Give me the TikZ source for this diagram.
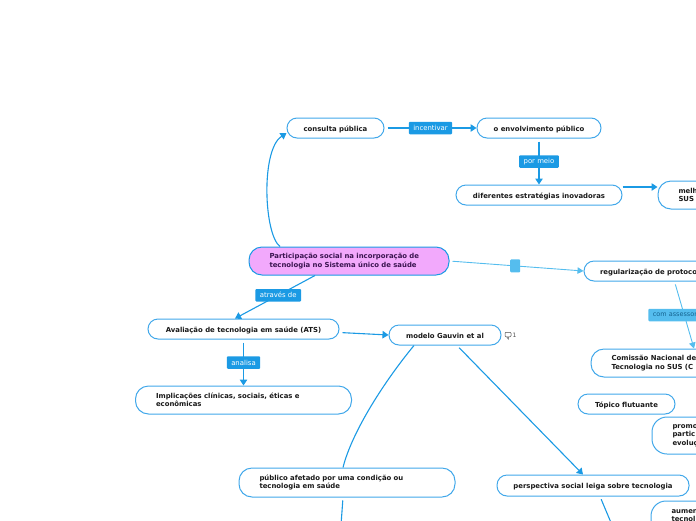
\documentclass[tikz,border=0pt]{standalone}
\usepackage{fontspec}
\setmainfont{DejaVu Sans}
\usepackage{tikz}
\usetikzlibrary{arrows.meta}
\definecolor{linha}{HTML}{1B9AE4}
\definecolor{claro}{HTML}{55BDEE}
\definecolor{borda}{HTML}{42A8EA}
\definecolor{rosa}{HTML}{F2A9FC}
\definecolor{tinta}{HTML}{3A1450}
\definecolor{tintab}{HTML}{14628F}

\begin{document}
\begin{tikzpicture}[x=1pt,y=-1pt,
main/.style = {draw=borda, fill=white, line width=1pt, rounded corners=10pt, inner sep=0pt, minimum height=20pt, text height=8.2pt, text depth=1.8pt, text=black!90, font=\fontsize{6.9}{8.3}\selectfont\bfseries},
wide/.style = {main, text height=, text depth=, rounded corners=13pt, inner xsep=20.5pt, align=left, minimum height=28pt},
link/.style = {draw=linha, line width=1.1pt, -{Triangle[width=7.5pt,length=6pt]}},
soft/.style = {draw=claro, line width=0.9pt, -{Triangle[width=6.5pt,length=6pt]}},
plain/.style = {draw=linha, line width=1.1pt},
tag/.style = {fill=linha, text=white, rounded corners=1pt, inner sep=0pt, inner xsep=4.5pt, minimum height=12.5pt, font=\fontsize{6.9}{8}\selectfont},
softtag/.style = {tag, fill=claro, text=tintab, font=\fontsize{6.5}{8}\selectfont},
bubble/.style = {draw=black!70, line width=0.5pt, rounded corners=1pt, inner sep=0pt, minimum width=6pt, minimum height=4.5pt}]
\useasboundingbox (0,0) rectangle (696,520);
\clip (0,0) rectangle (696,520);
\node[wide, fill=rosa, draw=linha, text=tinta, text width=159pt] (root) at (349,261) {Participação social na incorporação de\\tecnologia no Sistema único de saúde};
\node[main, minimum width=97pt, node distance=133pt, above of=root, xshift=-13.5pt] (consulta) {consulta pública};
\node[main, minimum width=124pt, node distance=203.5pt, right of=consulta] (envolvimento) {o envolvimento público};
\node[main, minimum width=166pt, node distance=67pt, below of=envolvimento] (diferentes) {diferentes estratégias inovadoras};
\node[wide, text width=59pt, node distance=169pt, right of=diferentes] (melhoria) {melh\\SUS};
\node[main, minimum width=160pt, node distance=315pt, right of=root, yshift=-10pt, inner xsep=16pt, align=left, text width=128pt] (regular) {regularização de protoco};
\node[wide, text width=159pt, node distance=92pt, below of=regular, xshift=27pt] (comissao) {Comissão Nacional de\\Tecnologia no SUS (C};
\node[main, minimum width=97pt, node distance=41pt, below of=comissao, xshift=-64.5pt] (flutuante) {Tópico flutuante};
\node[wide, text width=59pt, minimum height=37pt, rounded corners=15pt, node distance=31.5pt, below of=flutuante, xshift=75.5pt] (promo) {promo\\partic\\evoluç};
\node[main, minimum width=191pt, node distance=68pt, below of=root, xshift=-105.5pt] (ats) {Avaliação de tecnologia em saúde (ATS)};
\node[wide, text width=175pt, node distance=71pt, below of=ats] (implicacoes) {Implicações clínicas, sociais, éticas e\\econômicas};
\node[main, minimum width=112pt, node distance=201.5pt, right of=ats, yshift=-6pt] (modelo) {modelo Gauvin et al};
\node[font=\fontsize{6}{7}\selectfont, text=black!70, inner sep=0pt, node distance=69.5pt, right of=modelo] (nota) {1};
\node[bubble, node distance=6.5pt, left of=nota, yshift=0.5pt] (balao) {};
\node[wide, text width=175pt, minimum height=29pt, node distance=147.5pt, below of=modelo, xshift=-98pt] (publico) {público afetado por uma condição ou\\tecnologia em saúde};
\node[main, minimum width=192pt, minimum height=21pt, node distance=150.5pt, below of=modelo, xshift=148pt] (perspectiva) {perspectiva social leiga sobre tecnologia};
\node[wide, text width=59pt, minimum height=37pt, rounded corners=15pt, node distance=34pt, below of=perspectiva, xshift=108pt] (aumento) {aumen\\tecnol\\~};
\coordinate (fimpublico) at (341,525);
\coordinate (fimperspectiva) at (612,525);
\draw[link] ([xshift=-69pt]root.north) .. controls +(-16,-12) and +(-26,17) .. ([yshift=-5pt]consulta.west);
\draw[link, shorten <=3pt] (consulta) -- node[tag] {incentivar} (envolvimento);
\draw[link, shorten <=3pt] (envolvimento) -- node[tag] {por meio} (diferentes);
\draw[link] ([yshift=8pt]diferentes.east) -- ([yshift=8pt]melhoria.west);
\draw[soft, shorten <=3pt] (root.east) -- node[pos=.49, fill=claro, rounded corners=1pt, minimum width=10pt, minimum height=13pt, inner sep=0pt] (vazio) {} (regular.west);
\draw[soft, shorten <=3pt] ([xshift=10.5pt]regular.south) -- node[softtag, text width=63pt, align=left] (assessor) {com assessor} ([xshift=3pt]comissao.north);
\draw[link, shorten <=0pt] ([xshift=-34pt]root.south) -- node[tag, pos=.46] {através de} ([xshift=-8.5pt]ats.north);
\draw[link, shorten <=3pt] (ats) -- node[tag] {analisa} (implicacoes);
\draw[link, shorten <=3pt] ([yshift=-3.5pt]ats.east) -- (modelo.west);
\draw[plain] ([xshift=-31pt]modelo.south) .. controls +(-29,35) and +(9,-36) .. ([xshift=-4pt]publico.north);
\draw[plain, shorten <=3pt] ([xshift=-4pt]publico.south) -- (fimpublico);
\draw[link, shorten <=3pt] ([xshift=12pt]modelo.south) -- ([xshift=-10pt]perspectiva.north);
\draw[plain, shorten <=3pt] ([xshift=7pt]perspectiva.south) -- (fimperspectiva);
\draw[draw=black!70, line width=0.5pt] ([xshift=-3pt]balao.south east) -- ++(0,2) -- ++(-1.5,-2);
\end{tikzpicture}
\end{document}
